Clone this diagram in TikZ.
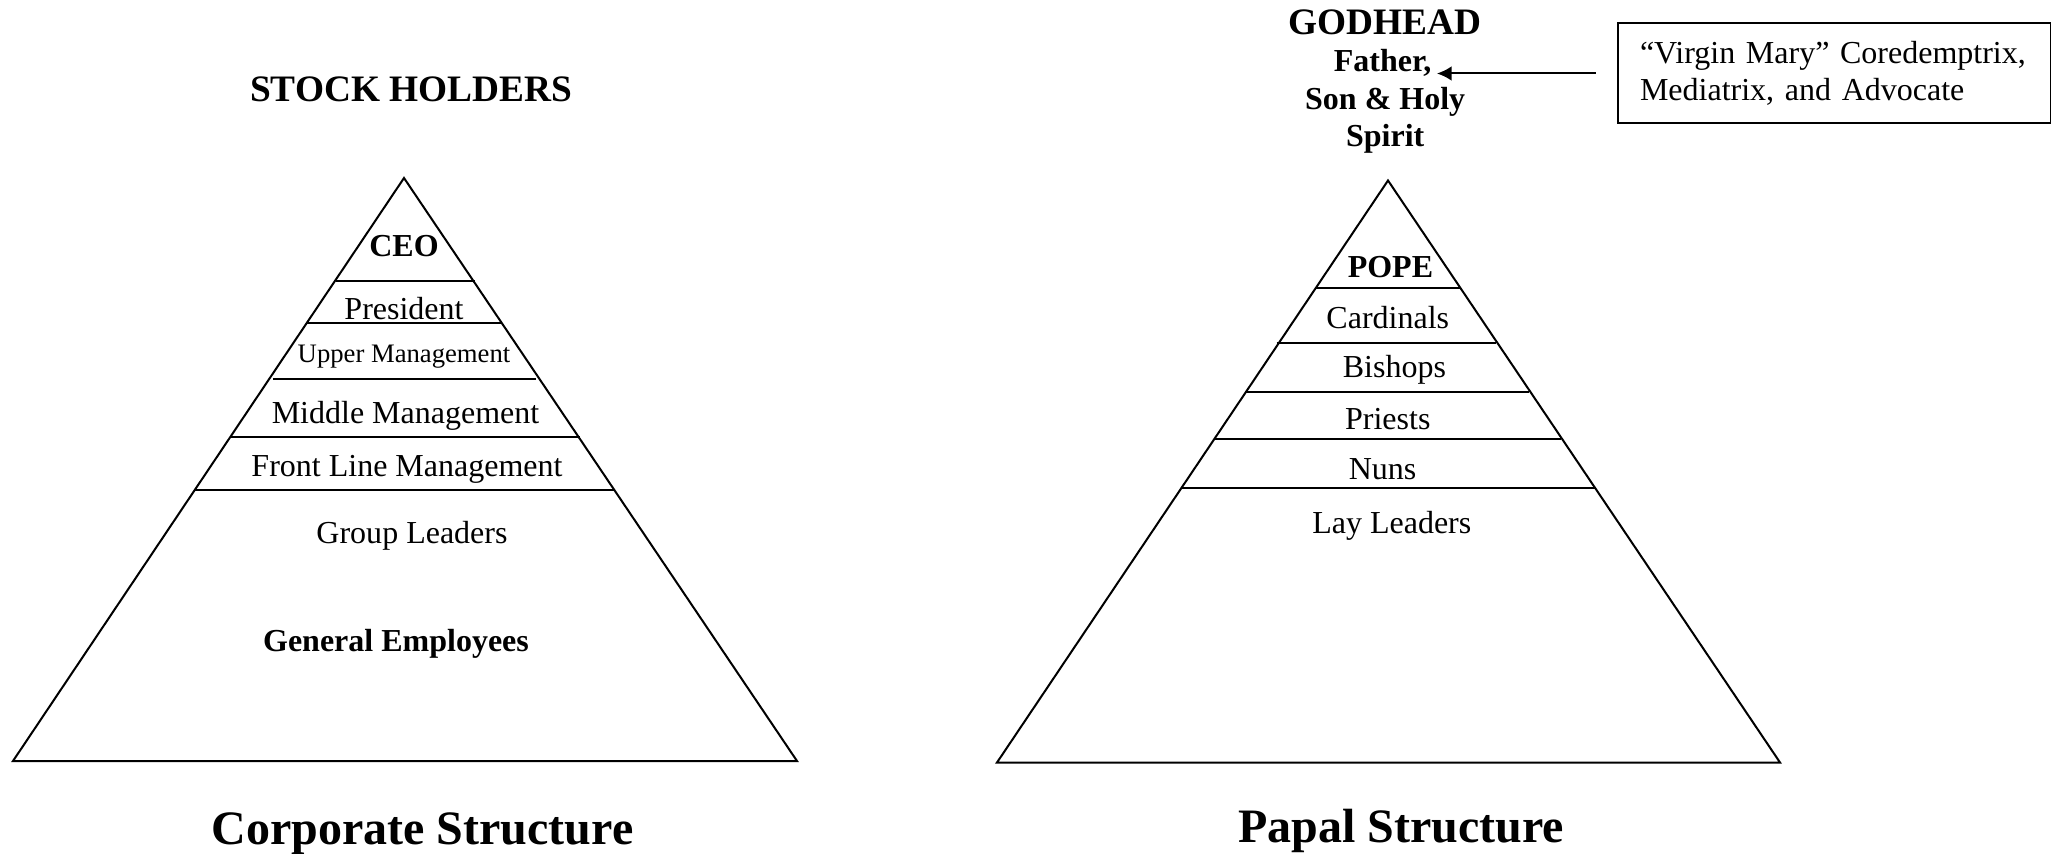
\documentclass[tikz,border=0pt]{standalone}
\usepackage{fontspec}
\setmainfont{Liberation Serif}
\usetikzlibrary{arrows.meta,calc}
\begin{document}
\begin{tikzpicture}[x=0.375pt,y=-0.375pt,
  line/.style={line width=0.75pt},
  lbl/.style={inner sep=0pt, font=\fontsize{12}{14}\selectfont},
  blbl/.style={inner sep=0pt, font=\fontsize{12}{14}\selectfont\bfseries},
  smalllbl/.style={inner sep=0pt, font=\fontsize{10}{12}\selectfont},
  titlelbl/.style={inner sep=0pt, font=\fontsize{18}{21}\selectfont\bfseries},
  headlbl/.style={inner sep=0pt, font=\fontsize{14}{16}\selectfont\bfseries}]
\useasboundingbox (0,0) rectangle (2051,854);

% ---------- Corporate pyramid ----------
\coordinate (LA) at (404,178);
\coordinate (LL) at (13,761);
\coordinate (LR) at (797,761);
\draw[line] (LA) -- (LL) -- (LR) -- cycle;
\draw[line] (336,281) -- (475,281);
\draw[line] (307,323) -- (501,323);
\draw[line] (273,379) -- (536,379);
\draw[line] (231,437) -- (580,437);
\draw[line] (195,490.5) -- (615,490.5);

\node[headlbl] (stock) at (411,89) {STOCK HOLDERS};
\node[blbl] (ceo) at (404,246) {CEO};
\node[lbl] (pres) at (404,308.5) {President};
\node[smalllbl] (upper) at (404,357) {Upper Management};
\node[lbl] (middle) at (405.5,416) {Middle Management};
\node[lbl] (front) at (407,469.5) {Front Line Management};
\node[lbl] (group) at (412,536) {Group Leaders};
\node[blbl] (general) at (396,643.5) {General Employees};
\node[titlelbl] (corp) at (422.5,834) {Corporate Structure};

% ---------- Papal pyramid ----------
\coordinate (RA) at (1388,180.5);
\coordinate (RL) at (997,762.5);
\coordinate (RR) at (1780,762.5);
\draw[line] (RA) -- (RL) -- (RR) -- cycle;
\draw[line] (1314.6,287.8) -- (1459.8,287.8);
\draw[line] (1276.6,342.7) -- (1496.4,342.7);
\draw[line] (1245.3,392.4) -- (1529.1,392.4);
\draw[line] (1215.2,439.5) -- (1560.5,439.5);
\draw[line] (1181.2,487.9) -- (1594.5,487.9);

\node[blbl] (pope) at (1390.4,267) {POPE};
\node[lbl] (card) at (1387.8,318) {Cardinals};
\node[lbl] (bish) at (1394.4,370) {Bishops};
\node[lbl] (priest) at (1387.8,418.6) {Priests};
\node[lbl] (nuns) at (1382.6,469.5) {Nuns};
\node[lbl] (lay) at (1391.8,526) {Lay Leaders};
\node[titlelbl] (papal) at (1401,831) {Papal Structure};

\node[headlbl] (god) at (1385.2,22.2) {GODHEAD};
\node[blbl, inner xsep=1.9pt] (father) at (1382.6,63) {Father,};
\node[blbl] (son) at (1385.2,102) {Son \& Holy};
\node[blbl] (spirit) at (1385.2,138.5) {Spirit};

\node[draw, line, anchor=north west, minimum width=162.2pt, minimum height=37.5pt,
      inner xsep=8.25pt, inner ysep=0pt, text width=145.7pt, align=left,
      font=\fontsize{12}{13.9}\selectfont] (mary) at (1617,22.5)
      {“Virgin Mary” Coredemptrix,\\Mediatrix, and Advocate};

\draw[line, shorten <=8pt, -{Latex[length=5.5pt,width=5.5pt]}] (mary.west) -- (mary.west -| father.east);
\end{tikzpicture}
\end{document}
